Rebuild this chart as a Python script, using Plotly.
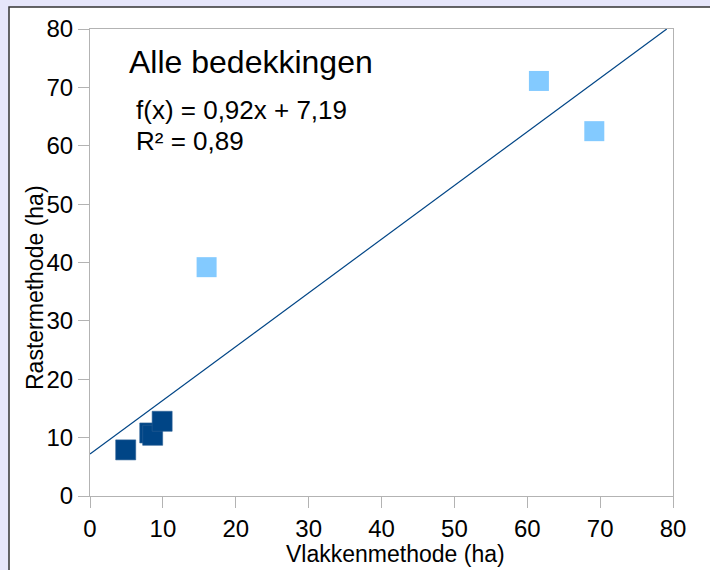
import plotly.graph_objects as go

# Measured areas (ha): vector method vs raster method
dark_x = [4.9, 8.2, 8.6, 9.9]
dark_y = [7.9, 10.8, 10.4, 12.8]
light_x = [16.0, 61.6, 69.2]
light_y = [39.2, 71.1, 62.5]

slope = 0.92
intercept = 7.19
r_squared = 0.89

axis_ticks = [0, 10, 20, 30, 40, 50, 60, 70, 80]

FONT = "Liberation Sans, Arial, sans-serif"
DARK = "#004586"
LIGHT = "#83caff"
GREY = "#b3b3b3"

# plot area in pixels: x 90..673, y 29..496
L, R, T, B = 90, 673, 29, 496


def px(p):
    return (p - L) / (R - L)


def py(q):
    return (B - q) / (B - T)


fmt = lambda v: f"{v:.2f}".replace(".", ",")

x_end = (80 - intercept) / slope
trend_x = [0, x_end]
trend_y = [slope * v + intercept for v in trend_x]

fig = go.Figure()
fig.add_trace(go.Scatter(
    x=trend_x, y=trend_y, mode="lines",
    line=dict(color=DARK, width=1.2), hoverinfo="skip", showlegend=False,
))
fig.add_trace(go.Scatter(
    x=light_x, y=light_y, mode="markers",
    marker=dict(symbol="square", size=20, color=LIGHT, line=dict(width=0)),
    showlegend=False,
))
fig.add_trace(go.Scatter(
    x=dark_x, y=dark_y, mode="markers",
    marker=dict(symbol="square", size=20, color=DARK,
                line=dict(width=0.6, color="#2a5f96")),
    showlegend=False,
))

axis_style = dict(
    range=[0, 80], tickvals=axis_ticks, ticktext=[str(t) for t in axis_ticks],
    showline=True, linecolor=GREY, linewidth=1, mirror=True,
    ticks="outside", ticklen=11, tickcolor=GREY, tickwidth=1,
    showgrid=False, zeroline=False,
    tickfont=dict(family=FONT, size=24, color="black"),
)

fig.update_layout(
    width=710, height=570,
    margin=dict(l=L, r=710 - R, t=T, b=570 - B),
    paper_bgcolor="#e6e6fa",
    plot_bgcolor="white",
    xaxis=dict(**axis_style),
    yaxis=dict(**axis_style),
    shapes=[dict(
        type="rect", xref="paper", yref="paper", layer="below",
        x0=px(9), x1=px(716), y0=py(576), y1=py(7),
        fillcolor="white", line=dict(color="#333333", width=1.5),
    )],
    annotations=[
        dict(text="Alle bedekkingen", xref="paper", yref="paper",
             x=px(127), y=py(62), xanchor="left", yanchor="middle",
             showarrow=False, font=dict(family=FONT, size=32, color="black")),
        dict(text=f"f(x) = {fmt(slope)}x + {fmt(intercept)}", xref="paper", yref="paper",
             x=px(134), y=py(110), xanchor="left", yanchor="middle",
             showarrow=False, font=dict(family=FONT, size=26, color="black")),
        dict(text=f"R² = {fmt(r_squared)}", xref="paper", yref="paper",
             x=px(134), y=py(141), xanchor="left", yanchor="middle",
             showarrow=False, font=dict(family=FONT, size=26, color="black")),
        dict(text="Vlakkenmethode (ha)", xref="paper", yref="paper",
             x=px(395), y=py(554), xanchor="center", yanchor="middle",
             showarrow=False, font=dict(family=FONT, size=23, color="black")),
        dict(text="Rastermethode (ha)", xref="paper", yref="paper",
             x=px(35), y=py(288), xanchor="center", yanchor="middle", textangle=-90,
             showarrow=False, font=dict(family=FONT, size=23, color="black")),
    ],
)

fig.write_html("out.html")
